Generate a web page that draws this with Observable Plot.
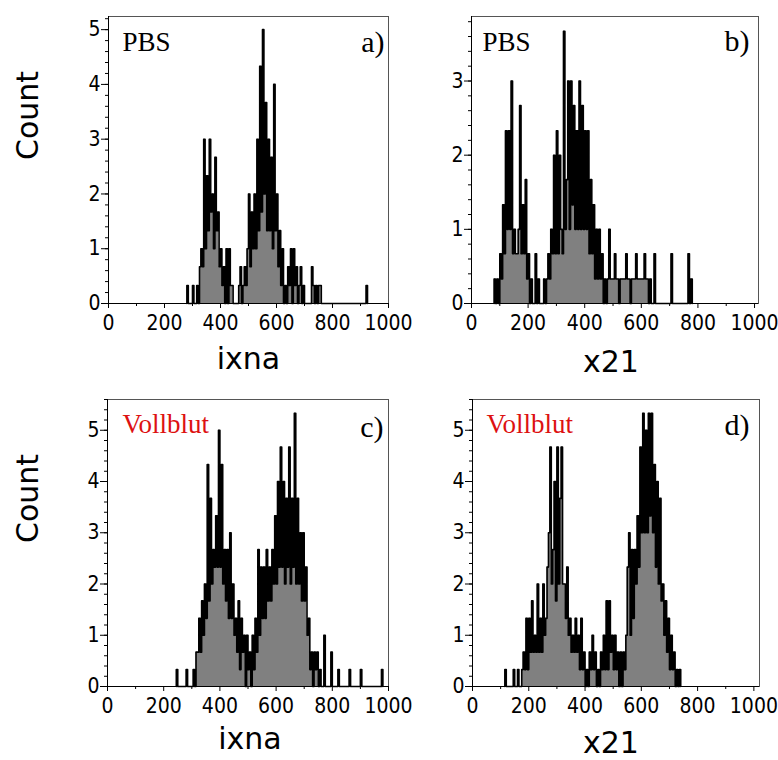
<!DOCTYPE html>
<html><head><meta charset="utf-8">
<script src="https://cdn.jsdelivr.net/npm/d3@7"></script>
<script src="https://cdn.jsdelivr.net/npm/@observablehq/plot@0.6"></script>
<style>
html,body{margin:0;padding:0;background:#fff;}
#root{position:relative;width:778px;height:760px;overflow:hidden;background:#fff;}
.cell{position:absolute;width:389px;height:380px;}
.cell svg{overflow:visible;}
</style></head><body><div id="root"></div>
<script>
// ---- data (bin width 5, counts per bin, values in thirds) ----
const binWidth = 5;

const ixnaPBSStart = 280;
const ixnaPBSCounts = [
  0.33, 0, 0, 0, 0.33, 0, 0, 0.33, 0, 0.67,          // 280-325
  1, 0.67, 3, 1, 2.33, 1.33, 3, 1.67, 2, 1,          // 330-375
  2.67, 1.33, 1.67, 0.67, 1, 0.33, 0.67, 0, 1, 0,    // 380-425
  1, 0.33, 0.33, 0, 0, 0, 0, 0.33, 0.67, 0,          // 430-475
  0.33, 0.67, 0.33, 1, 2, 0.67, 1.67, 1, 2, 1,       // 480-525
  3, 1.33, 4.33, 1.67, 5, 2, 3.67, 1.33, 3, 1.33,    // 530-575
  2.67, 1, 4, 1.33, 2, 0.67, 1.33, 0.33, 1, 0,       // 580-625
  0.33, 0, 0.67, 0.33, 1, 0, 1, 0.33, 0.67, 0,       // 630-675
  0.33, 0.67, 0, 0.33, 0, 0, 0, 0, 0, 0.67,          // 680-725
  0.33, 0, 0.33, 0, 0.33, 0.33, 0, 0, 0, 0,          // 730-775
  0, 0, 0, 0, 0, 0, 0, 0, 0, 0,                      // 780-825
  0, 0, 0, 0, 0, 0, 0, 0, 0, 0,                      // 830-875
  0, 0, 0, 0, 0, 0, 0, 0, 0.33                       // 880-920
];

const x21PBSStart = 80;
const x21PBSCounts = [
  0.33, 0, 0.33, 0, 0.67, 0.33, 1.33, 0.67, 2.33, 1,      // 80-125
  2.33, 1, 3, 0.67, 1, 0.67, 0.67, 1, 2.67, 0.67,         // 130-175
  1.33, 0.67, 1.67, 0.33, 0.67, 0, 0.33, 0, 0, 0.67,      // 180-225
  0, 0.33, 0, 0, 0, 0.33, 0, 0.33, 0.67, 0.33,            // 230-275
  1, 0.67, 2, 0.67, 2.33, 0.67, 2, 1, 0.67, 3.67,         // 280-325
  1, 1.67, 3, 1, 3, 1.33, 2.67, 1, 2.33, 1,               // 330-375
  3, 1, 2.67, 1, 2.33, 1, 2.33, 0.67, 1.67, 0.67,         // 380-425
  1.33, 0.33, 1, 0.33, 1, 0.33, 0.67, 0, 0.33, 0,         // 430-475
  0.33, 1, 0.33, 0.33, 0.33, 0.67, 0.33, 0.33, 0, 0.33,   // 480-525
  0.33, 0.33, 0.33, 0.67, 0.33, 0.33, 0, 0.33, 0.33, 0.33,// 530-575
  0.67, 0.33, 0.33, 0.33, 0.33, 0.33, 0.67, 0.33, 0.33, 0,// 580-625
  0.33, 0, 0, 0.67, 0, 0, 0, 0, 0, 0,                     // 630-675
  0, 0, 0, 0, 0, 0.67, 0, 0, 0, 0,                        // 680-725
  0, 0, 0, 0, 0, 0, 0, 0.67, 0, 0.33                      // 730-775
];

const ixnaVollStart = 245;
const ixnaVollCounts = [
  0.33, 0, 0, 0, 0, 0, 0, 0.33, 0, 0,                     // 245-290
  0, 0, 0.33, 0, 0.67, 0.67, 1.33, 0.67, 1.67, 1,         // 295-340
  2, 1.33, 4.33, 1.67, 3.67, 2, 2.67, 2.33, 3.33, 2.33,   // 345-390
  5, 2.33, 4.33, 2, 2.67, 1.67, 2.67, 1.33, 3, 1.33,      // 395-440
  2, 1, 1.33, 0.67, 1.67, 0.33, 1.33, 0.67, 1, 0,         // 445-490
  1, 0.33, 0.67, 0, 1, 0.33, 1.33, 0.67, 2.67, 1,         // 495-540
  2.33, 1.33, 2.33, 1.33, 2.67, 1.67, 2.33, 1.67, 2.67, 2,// 545-590
  3.33, 2, 4, 2.33, 4.67, 2.33, 4, 2, 3.67, 2.33,         // 595-640
  4.67, 2, 3.67, 2.33, 5.33, 2, 3.67, 2, 3, 1.67,         // 645-690
  3, 1.67, 2.33, 1, 1.33, 0.33, 0.67, 0, 0.67, 0.33,      // 695-740
  0.67, 0, 0.33, 0, 0, 1, 0, 0, 0, 0,                     // 745-790
  0.67, 0, 0, 0, 0, 0.33, 0, 0, 0, 0,                     // 795-840
  0, 0, 0, 0.33, 0, 0, 0, 0, 0, 0,                        // 845-890
  0, 0.33, 0, 0, 0, 0, 0, 0, 0, 0,                        // 895-940
  0, 0, 0, 0, 0, 0, 0.33                                  // 945-975
];

const x21VollStart = 115;
const x21VollCounts = [
  0.33, 0, 0, 0, 0, 0, 0.33, 0, 0, 0.33,                  // 115-160
  0, 0, 0.33, 0.67, 0.33, 1.33, 0.33, 1.33, 0.67, 1.67,   // 165-210
  0.67, 1, 0.67, 2, 0.67, 1.33, 0.67, 2, 1, 1.33,         // 215-260
  2.33, 3, 4.67, 2, 2.67, 4, 1.67, 4.67, 2, 3.67,         // 265-310
  4.67, 2, 2, 1.33, 2.33, 1, 1.33, 0.67, 1, 0.67,         // 315-360
  1.33, 0.67, 1, 0.33, 1.33, 0.33, 0.67, 0, 0.33, 0,      // 365-410
  0.67, 0.33, 1, 0.33, 0.67, 0, 0.33, 0, 0.67, 0.33,      // 415-460
  1, 0.33, 1.67, 0.33, 1.67, 0.67, 1, 0.33, 1, 0.33,      // 465-510
  0.67, 0, 0.67, 0, 0.67, 0.33, 1, 2.33, 3, 1,            // 515-560
  2.67, 1.33, 2.67, 2, 3.33, 2.33, 4.67, 3, 5.33, 3,      // 565-610
  5, 3, 5.33, 3.33, 5.33, 3, 4.33, 2.33, 4, 2,            // 615-660
  3.67, 1.67, 2, 1, 1.67, 0.67, 1.33, 0.33, 1, 0.33,      // 665-710
  0.67, 0, 0.33, 0, 0.33                                  // 715-735
];

const xTicks = [0, 200, 400, 600, 800, 1000];
const xMinorTicks = [100, 300, 500, 700, 900];
const yTicksA = [0, 1, 2, 3, 4, 5];
const yTicksB = [0, 1, 2, 3];
const yTicksC = [0, 1, 2, 3, 4, 5];
const yTicksD = [0, 1, 2, 3, 4, 5];
const xLabels = ["ixna", "x21", "ixna", "x21"];
const sampleLabels = ["PBS", "PBS", "Vollblut", "Vollblut"];
const panelLetters = ["a)", "b)", "c)", "d)"];
const yLabel = "Count";

// ---- layout ----
const panels = [
  {left: 0, top: 0, start: ixnaPBSStart, counts: ixnaPBSCounts, yTicks: yTicksA, yMax: 5.24, xMax: 1000,
   mL: 108, mR: 1, mT: 16, mB: 77, tagColor: "#000", tagDx: 14, tagDy: 15.5, letDx: -4, letDy: 14,
   xlabDx: 0, xlabDy: 56, countDx: -80},
  {left: 389, top: 0, start: x21PBSStart, counts: x21PBSCounts, yTicks: yTicksB, yMax: 3.87, xMax: 1014,
   mL: 82, mR: 20, mT: 16, mB: 77, tagColor: "#000", tagDx: 11, tagDy: 15.5, letDx: -9, letDy: 13,
   xlabDx: -4, xlabDy: 59, countDx: null},
  {left: 0, top: 380, start: ixnaVollStart, counts: ixnaVollCounts, yTicks: yTicksC, yMax: 5.6, xMax: 1000,
   mL: 107, mR: 1, mT: 19, mB: 74, tagColor: "#dd1111", tagDx: 15, tagDy: 14, letDx: -5, letDy: 16,
   xlabDx: 2, xlabDy: 53, countDx: -79},
  {left: 389, top: 380, start: x21VollStart, counts: x21VollCounts, yTicks: yTicksD, yMax: 5.6, xMax: 1020,
   mL: 83, mR: 19, mT: 19, mB: 74, tagColor: "#dd1111", tagDx: 14, tagDy: 14, letDx: -10, letDy: 14,
   xlabDx: -5, xlabDy: 57, countDx: null}
];

const tickFont = "'Liberation Sans Narrow', 'DejaVu Sans Condensed', 'DejaVu Sans', sans-serif";
const root = document.getElementById("root");

panels.forEach((p, k) => {
  const data = [{x: p.start, y: 0}]
    .concat(p.counts.map((c, i) => ({x: p.start + i * binWidth, y: c})))
    .concat([{x: p.start + p.counts.length * binWidth, y: 0}]);
  const yMinor = d3.range(0, p.yMax + 1e-9, 0.2);

  const marks = [
    Plot.areaY(data, {x: "x", y: "y", curve: "step-after", fill: "#808080"}),
    Plot.line(data, {x: "x", y: "y", curve: "step-after", stroke: "#000", strokeWidth: 1.6}),
    Plot.frame({stroke: "#555"}),
    Plot.ruleX([0], {stroke: "#000"}),
    Plot.ruleY([0], {stroke: "#000"}),
    Plot.axisX({ticks: xTicks, tickSize: 5, tickPadding: 7, tickFormat: d => String(d), label: null}),
    Plot.axisX({ticks: xMinorTicks, tickSize: 3, tickFormat: () => "", label: null}),
    Plot.axisY({ticks: p.yTicks, tickSize: 7, tickPadding: 1, tickFormat: d => String(d), label: null}),
    Plot.axisY({ticks: yMinor, tickSize: 3, tickFormat: () => "", label: null}),
    Plot.text([sampleLabels[k]], {text: d => d, frameAnchor: "top-left", textAnchor: "start", lineAnchor: "top",
      dx: p.tagDx, dy: p.tagDy, fontFamily: "Liberation Serif", fontSize: 27, fill: p.tagColor}),
    Plot.text([panelLetters[k]], {text: d => d, frameAnchor: "top-right", textAnchor: "end", lineAnchor: "top",
      dx: p.letDx, dy: p.letDy, fontFamily: "Liberation Serif", fontSize: 30, fill: "#000"}),
    Plot.text([xLabels[k]], {text: d => d, frameAnchor: "bottom", lineAnchor: "middle",
      dx: p.xlabDx, dy: p.xlabDy, fontFamily: "DejaVu Sans", fontSize: 30, fill: "#000"})
  ];
  if (p.countDx !== null) {
    marks.push(Plot.text([yLabel], {text: d => d, frameAnchor: "left", lineAnchor: "middle", rotate: -90,
      dx: p.countDx, fontFamily: "DejaVu Sans", fontSize: 30, fill: "#000"}));
  }

  const svg = Plot.plot({
    width: 389, height: 380,
    marginLeft: p.mL, marginRight: p.mR, marginTop: p.mT, marginBottom: p.mB,
    x: {domain: [0, p.xMax], label: null},
    y: {domain: [0, p.yMax], label: null},
    style: {background: "transparent", overflow: "visible", fontFamily: tickFont, fontSize: "21px", color: "#000"},
    marks
  });
  const cell = document.createElement("div");
  cell.className = "cell";
  cell.style.left = p.left + "px";
  cell.style.top = p.top + "px";
  cell.appendChild(svg);
  root.appendChild(cell);
});
</script>
</body></html>
